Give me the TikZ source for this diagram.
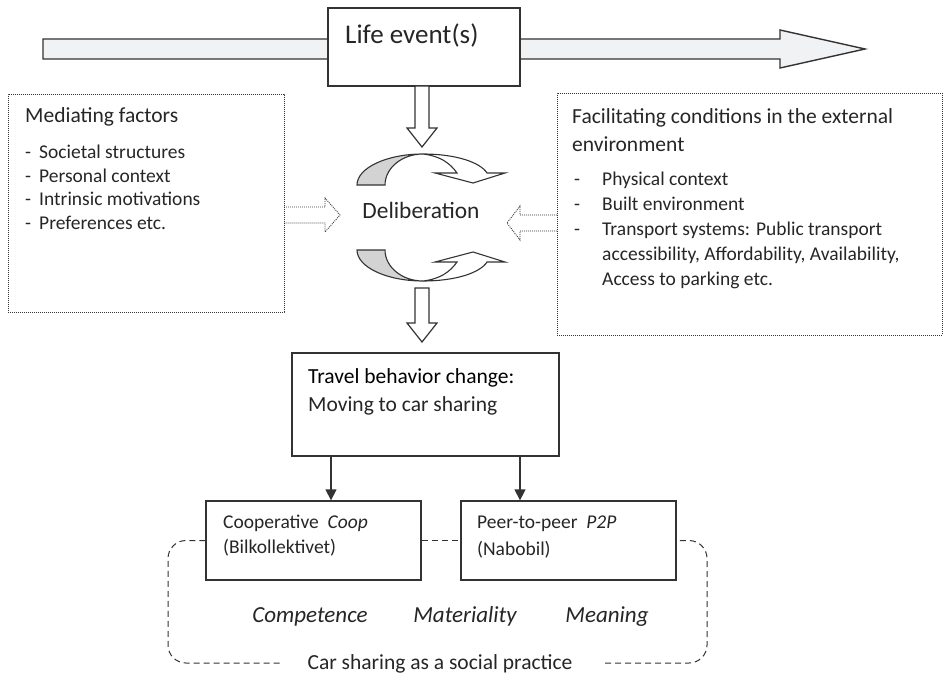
\documentclass[tikz,border=0pt]{standalone}
\usepackage{fontspec}
\setmainfont{Carlito}
\usetikzlibrary{arrows.meta}
\definecolor{txt}{HTML}{262626}
\definecolor{arrfill}{HTML}{F1F2F3}
\definecolor{cycgray}{HTML}{D3D3D3}
\definecolor{linec}{HTML}{333333}
\newcommand{\fLife}{\fontsize{27}{32}\selectfont}
\newcommand{\fTitle}{\fontsize{21.5}{26}\selectfont}
\newcommand{\fItem}{\fontsize{19.5}{23}\selectfont}
\newcommand{\fDelib}{\fontsize{23.4}{28}\selectfont}
\newcommand{\fItal}{\fontsize{23}{28}\selectfont\itshape}
\tikzset{
  box/.style={draw=linec, line width=1.3pt, fill=white, inner sep=0pt},
  dotbox/.style={draw=linec, line width=0.9pt, dash pattern=on 0.9pt off 1.1pt, inner sep=0pt},
  txtn/.style={inner sep=0pt, text=txt, execute at begin node={\vphantom{(}}},
  lbl/.style={txtn, anchor=west},
  bigarr/.style={draw=linec, line width=1.4pt, fill=arrfill, line join=miter},
  blk/.style={draw=linec, line width=1.2pt, fill=white, line join=miter},
  dotarr/.style={draw=linec, line width=0.9pt, dash pattern=on 0.9pt off 1.1pt},
  cycline/.style={draw=linec, line width=1.1pt, line join=miter},
  conn/.style={draw=linec, line width=1.3pt, -{Triangle[width=11pt,length=11pt]}},
  dashline/.style={draw=linec, line width=1pt, dash pattern=on 6pt off 4pt},
  cyc/.pic={
    \draw[cycline, fill=cycgray] (-66,31) .. controls (-66,14) and (-36.6,0) .. (0,0)
      .. controls (-21,0) and (-38,14) .. (-38,31) -- cycle;
    \draw[cycline, fill=white] (0,0) .. controls (32,0) and (57,8) .. (64,19)
      -- (82,19) -- (50,29) -- (12,19) -- (34,19)
      .. controls (27,9) and (17,2) .. (0,0) -- cycle;
  }
}
\begin{document}
\begin{tikzpicture}[x=1pt,y=-1pt]
\useasboundingbox (0,0) rectangle (944,674);
\fill[white] (0,0) rectangle (944,674);
% big timeline arrow
\draw[bigarr] (43,39) -- (780,39) -- (780,30) -- (865,49) -- (780,68) -- (780,59) -- (43,59) -- cycle;
% life event box
\node[box, minimum width=192pt, minimum height=78pt] (life) at (424,47) {};
\node[lbl, font=\fLife] (lifet) at (345,35) {Life event(s)};
% block arrow down 1
\draw[blk] (415,86) -- (415,128) -- (407,128) -- (422,147) -- (437,128) -- (429,128) -- (429,86) -- cycle;
% circular arrows
\pic at (423,154) {cyc};
\pic[yscale=-1] at (423,281) {cyc};
\node[txtn, font=\fDelib] (delib) at (421,212) {Deliberation};
% block arrow down 2
\draw[blk] (415,288) -- (415,323) -- (407,323) -- (422,342) -- (437,323) -- (429,323) -- (429,288) -- cycle;
% mediating factors
\node[dotbox, minimum width=276pt, minimum height=218pt] (med) at (146,203) {};
\node[lbl, font=\fTitle] (medt) at (25,116) {Mediating factors};
\foreach \yy/\tt [count=\i] in {153/Societal structures,176.5/Personal context,200/Intrinsic motivations,223.5/Preferences etc.}{
  \node[lbl, font=\fItem] (medd\i) at (25,\yy) {-};
  \node[lbl, font=\fItem] (medi\i) at (39,\yy) {\tt};
}
\draw[dotarr] (284,207) -- (325,207) -- (325,198) -- (340,215) -- (325,232) -- (325,223) -- (284,223);
% facilitating conditions
\node[dotbox, minimum width=385pt, minimum height=242pt] (fac) at (749.5,214) {};
\node[lbl, font=\fTitle] (fact1) at (572,117) {Facilitating conditions in the external};
\node[lbl, font=\fTitle] (fact2) at (572,145) {environment};
\foreach \yy/\tt [count=\i] in {180/Physical context,205/Built environment,230/Transport systems: Public transport}{
  \node[lbl, font=\fItem] (facd\i) at (574,\yy) {-};
  \node[lbl, font=\fItem] (faci\i) at (602,\yy) {\tt};
}
\node[lbl, font=\fItem] (faci4) at (602,255) {accessibility, Affordability, Availability,};
\node[lbl, font=\fItem] (faci5) at (602,280) {Access to parking etc.};
\draw[dotarr] (557,215) -- (520,215) -- (520,206) -- (507,223) -- (520,240) -- (520,231) -- (557,231);
% travel behaviour change
\node[box, minimum width=267pt, minimum height=103pt] (travel) at (425.5,404.5) {};
\node[lbl, font=\fTitle, text=black] (travt1) at (308,377) {Travel behavior change:};
\node[lbl, font=\fTitle] (travt2) at (308,405) {Moving to car sharing};
% coop and p2p
\node[box, minimum width=215pt, minimum height=79pt] (coop) at (313.5,540.5) {};
\node[lbl, font=\fItem] (coopt1) at (223,523) {Cooperative\ \ \textit{Coop}};
\node[lbl, font=\fItem] (coopt2) at (223,548) {(Bilkollektivet)};
\node[box, minimum width=215pt, minimum height=79pt] (p2p) at (568.5,540.5) {};
\node[lbl, font=\fItem] (p2pt1) at (477,523) {Peer-to-peer\ \ \textit{P2P}};
\node[lbl, font=\fItem] (p2pt2) at (477,550) {(Nabobil)};
\draw[conn] (travel.south -| 331,0) -- (coop.north -| 331,0);
\draw[conn] (travel.south -| 520,0) -- (p2p.north -| 520,0);
% social practice
\draw[dashline, rounded corners=18pt] (coop.west) -- (168,540.5) -- (168,663) -- (283,663);
\draw[dashline, rounded corners=18pt] (605,663) -- (707,663) -- (707,540.5) -- (p2p.east);
\draw[dashline] (coop.east) -- (p2p.west);
\node[txtn, font=\fTitle] (social) at (440,663) {Car sharing as a social practice};
\node[txtn, font=\fItal] (comp) at (310,616) {Competence};
\node[txtn, font=\fItal] (mat) at (465,616) {Materiality};
\node[txtn, font=\fItal] (mean) at (607,616) {Meaning};
\end{tikzpicture}
\end{document}
